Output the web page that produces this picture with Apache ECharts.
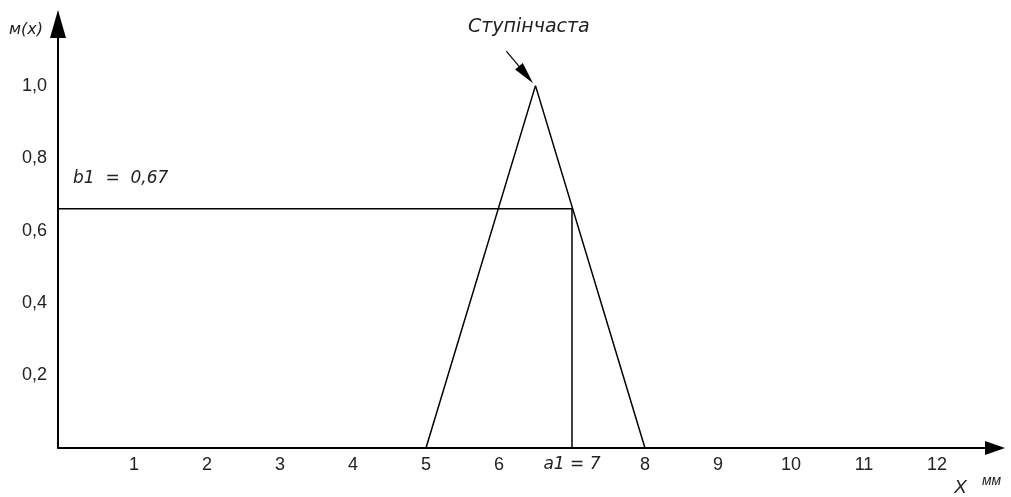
<!DOCTYPE html>
<html>
<head>
<meta charset="utf-8">
<script src="https://cdn.jsdelivr.net/npm/echarts@6/dist/echarts.min.js"></script>
<style>
  html, body { margin: 0; padding: 0; background: #fff; }
  #main { width: 1011px; height: 497px; }
</style>
</head>
<body>
<div id="main"></div>
<script>
// ступінчаста функція належності (трикутник)
var triangleX = [5, 6.5, 8];
var triangleY = [0, 1, 0];
// рівень b1 та точка a1
var a1 = 7;
var b1 = 0.66;
var b1Text = 'b1  =  0,67';
var xMin = -0.041;
var xMax = 12.795;
var xTicks = [1, 2, 3, 4, 5, 6, 7, 8, 9, 10, 11, 12];
var yTicks = [0.2, 0.4, 0.6, 0.8, 1.0];
// кінці стрілки-підпису
var arrowFrom = [6.1, 1.095];
var arrowTo = [6.37, 1.03];

var chart = echarts.init(document.getElementById('main'));
var font = 'Liberation Sans, Arial, sans-serif';
var itFont = 'DejaVu Sans, sans-serif';

var option = {
  backgroundColor: '#fff',
  animation: false,
  grid: { left: 58, right: 16, top: 24, bottom: 49 },
  xAxis: {
    type: 'value',
    min: xMin,
    max: xMax,
    axisLine: {
      show: true,
      symbol: ['none', 'triangle'],
      symbolSize: [14, 20],
      lineStyle: { color: '#000', width: 2 }
    },
    axisTick: { show: false },
    splitLine: { show: false },
    axisLabel: {
      margin: 8,
      color: '#222',
      fontFamily: font,
      fontSize: 18,
      customValues: xTicks,
      formatter: function (v) {
        if (v === a1) return '{it|a1 = ' + v + '}';
        return String(v);
      },
      rich: {
        it: { fontStyle: 'italic', fontSize: 17, fontFamily: itFont, color: '#222' }
      }
    }
  },
  yAxis: {
    type: 'value',
    min: 0,
    max: 1.17,
    axisLine: {
      show: true,
      onZero: false,
      symbol: ['none', 'triangle'],
      symbolSize: [16, 28],
      lineStyle: { color: '#000', width: 2 }
    },
    axisTick: { show: false },
    splitLine: { show: false },
    axisLabel: {
      margin: 11,
      color: '#222',
      fontFamily: font,
      fontSize: 18,
      customValues: yTicks,
      formatter: function (v) {
        return v.toFixed(1).replace('.', ',');
      }
    }
  },
  graphic: [
    { type: 'text', left: 9, top: 22, style: { text: 'м(x)', font: 'italic 16px ' + itFont, fill: '#222' } },
    { type: 'text', left: 468, top: 18, style: { text: 'Ступінчаста', font: 'italic 19px ' + itFont, fill: '#222' } },
    { type: 'text', left: 73, top: 170, style: { text: b1Text, font: 'italic 17px ' + itFont, fill: '#222' } },
    { type: 'text', left: 954, top: 478, style: { text: 'X', font: 'italic 19px ' + font, fill: '#222' } },
    { type: 'text', left: 982, top: 474, style: { text: 'мм', font: 'italic 14px ' + font, fill: '#222' } }
  ],
  series: [
    {
      type: 'line',
      data: triangleX.map(function (x, i) { return [x, triangleY[i]]; }),
      showSymbol: false,
      lineStyle: { color: '#000', width: 1.5 },
      markLine: {
        silent: true,
        symbol: ['none', 'triangle'],
        symbolSize: [10, 22],
        label: { show: false },
        lineStyle: { color: '#000', width: 1.2, type: 'solid' },
        data: [[{ coord: arrowFrom }, { coord: arrowTo }]]
      }
    },
    {
      type: 'line',
      data: [[xMin, b1], [a1, b1], [a1, 0]],
      showSymbol: false,
      lineStyle: { color: '#000', width: 1.5 }
    }
  ]
};

chart.setOption(option);
</script>
</body>
</html>
